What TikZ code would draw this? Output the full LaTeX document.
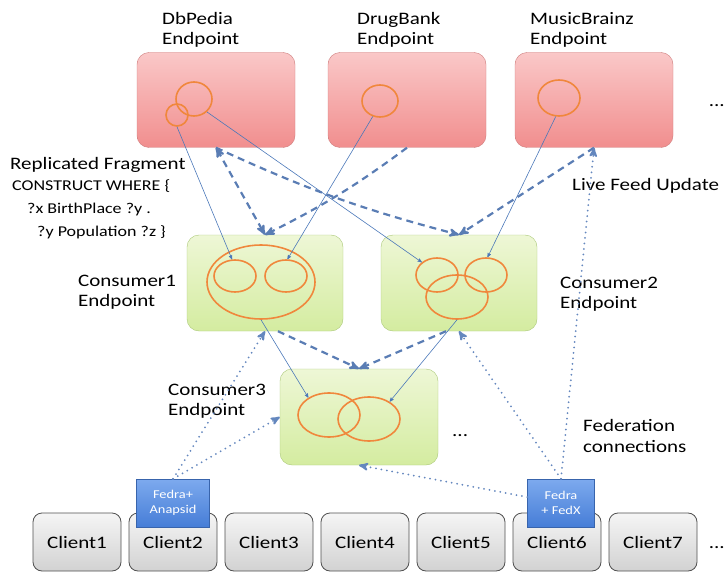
\documentclass[tikz,border=0pt]{standalone}
\usepackage{fontspec}
\setmainfont{Carlito}[FakeStretch=1.2]
\usepackage{tikz}
\usetikzlibrary{arrows,shapes.geometric}
\definecolor{redtop}{RGB}{250,200,200}
\definecolor{redbot}{RGB}{241,142,142}
\definecolor{redline}{RGB}{205,125,125}
\definecolor{greentop}{RGB}{238,247,214}
\definecolor{greenbot}{RGB}{212,236,160}
\definecolor{greenline}{RGB}{170,200,120}
\definecolor{greytop}{RGB}{245,245,245}
\definecolor{greybot}{RGB}{210,210,210}
\definecolor{greyline}{RGB}{80,80,80}
\definecolor{fedtop}{RGB}{125,170,238}
\definecolor{fedbot}{RGB}{70,125,215}
\definecolor{ringcol}{RGB}{240,135,60}
\definecolor{linkcol}{RGB}{75,120,185}
\definecolor{feedcol}{RGB}{90,125,180}
\definecolor{fedcol}{RGB}{100,135,190}

\begin{document}
\begin{tikzpicture}[x=1pt,y=-1pt,
  source/.style={rectangle, rounded corners=12pt, draw=redline, top color=redtop, bottom color=redbot, minimum width=158pt, minimum height=95pt},
  consumer/.style={rectangle, rounded corners=12pt, draw=greenline, top color=greentop, bottom color=greenbot, minimum width=156pt, minimum height=96pt},
  client/.style={rectangle, rounded corners=9pt, draw=greyline, line width=0.8pt, top color=greytop, bottom color=greybot, minimum width=88pt, minimum height=58pt, font=\fontsize{17.5}{20}\selectfont},
  fedra/.style={rectangle, draw=fedbot!80!black, top color=fedtop, bottom color=fedbot, text=white, align=center, font=\fontsize{12}{15}\selectfont, minimum height=48pt},
  ring/.style={ellipse, draw=ringcol, line width=1.6pt, inner sep=0pt},
  lbl/.style={align=left, anchor=west, inner sep=0pt, font=\fontsize{17.5}{20.5}\selectfont},
  query/.style={->, >=stealth', linkcol, line width=0.6pt},
  feed/.style={->, >=stealth', feedcol, line width=2.2pt, dash pattern=on 7pt off 5pt},
  fed/.style={->, >=stealth', fedcol, line width=2pt, line cap=round, dash pattern=on 0pt off 5.5pt}]
  \useasboundingbox (0,0) rectangle (726,575);

  % data sources
  \node[source] (dbp) at (216,100) {};
  \node[source] (drug) at (407,100) {};
  \node[source] (music) at (594,100) {};
  \node[lbl] (dbplbl) at (162,30) {DbPedia\\Endpoint};
  \node[lbl] (druglbl) at (357,30) {DrugBank\\Endpoint};
  \node[lbl] (musiclbl) at (530,30) {MusicBrainz\\Endpoint};
  \node[lbl, anchor=east] (moresrc) at (725,106) {...};

  % consumers
  \node[consumer] (con1) at (265,283) {};
  \node[consumer] (con2) at (459,283) {};
  \node[consumer, minimum width=158pt] (con3) at (359,417) {};
  \node[lbl] (con1lbl) at (78,292) {Consumer1\\Endpoint};
  \node[lbl] (con2lbl) at (560,294) {Consumer2\\Endpoint};
  \node[lbl] (con3lbl) at (168,401) {Consumer3\\Endpoint};
  \node[lbl] (morecon) at (452,436) {...};

  \node[lbl] (repl) at (10,165) {Replicated Fragment};
  \node[lbl, anchor=north west, font=\fontsize{15}{23}\selectfont] (query) at (12,179)
    {CONSTRUCT WHERE \{\\\hspace*{15pt}?x BirthPlace ?y .\\\hspace*{25pt}?y Population ?z \}};
  \node[lbl] (feedlbl) at (572,186) {Live Feed Update};
  \node[lbl] (fedlbl) at (583,436) {Federation\\connections};

  % fragments
  \node[ring, minimum width=36pt, minimum height=34pt] (dbpbig) at (194,99) {};
  \node[ring, minimum width=22pt, minimum height=22pt] (dbpsmall) at (177,115) {};
  \node[ring, minimum width=36pt, minimum height=32pt] (drugring) at (380,101) {};
  \node[ring, minimum width=42pt, minimum height=36pt] (musicring) at (559,98) {};
  \node[ring, minimum width=108pt, minimum height=74pt] (c1big) at (261,282) {};
  \node[ring, minimum width=42pt, minimum height=32pt] (c1left) at (235,276) {};
  \node[ring, minimum width=42pt, minimum height=32pt] (c1right) at (286,276) {};
  \node[ring, minimum width=42pt, minimum height=34pt] (c2left) at (437,275) {};
  \node[ring, minimum width=42pt, minimum height=34pt] (c2right) at (486,275) {};
  \node[ring, minimum width=62pt, minimum height=44pt] (c2big) at (457,297) {};
  \node[ring, minimum width=62pt, minimum height=44pt] (c3left) at (329,415) {};
  \node[ring, minimum width=62pt, minimum height=44pt] (c3right) at (369,419) {};

  % clients
  \foreach \i in {1,...,7}
    \node[client] (client\i) at ({77+96*(\i-1)},542) {Client\i};
  \node[lbl, anchor=east] (moreclient) at (725,548) {...};
  \node[fedra, minimum width=73pt] (fedanap) at (173,503) {Fedra+\\Anapsid};
  \node[fedra, minimum width=67pt] (fedfedx) at (561,503) {Fedra\\+ FedX};

  \path[query]
  (dbpsmall.south) edge (c1left.100)
  (dbpbig.-45) edge (c2left.140)
  (drugring.-115) edge (c1right.85)
  (musicring.-100) edge (c2right.85)
  (c1big.south) edge (c3left.140)
  (c2big.south) edge (c3right.40);
  \path[feed]
  (dbp.south) edge[<->] (con1.north)
  (dbp.south) edge[bend right=5] (con2.north)
  (drug.south) edge[bend left=5] (con1.north)
  (music.south) edge (con2.north)
  (con1.-75) edge (con3.north)
  (con2.-105) edge (con3.north);
  \path[fed]
  (fedanap.north) edge (con1.south)
  (fedanap.north) edge (con3.west)
  (fedfedx.north) edge (con2.south)
  (fedfedx.north) edge (music.south)
  (fedfedx.170) edge (con3.south);
\end{tikzpicture}
\end{document}
